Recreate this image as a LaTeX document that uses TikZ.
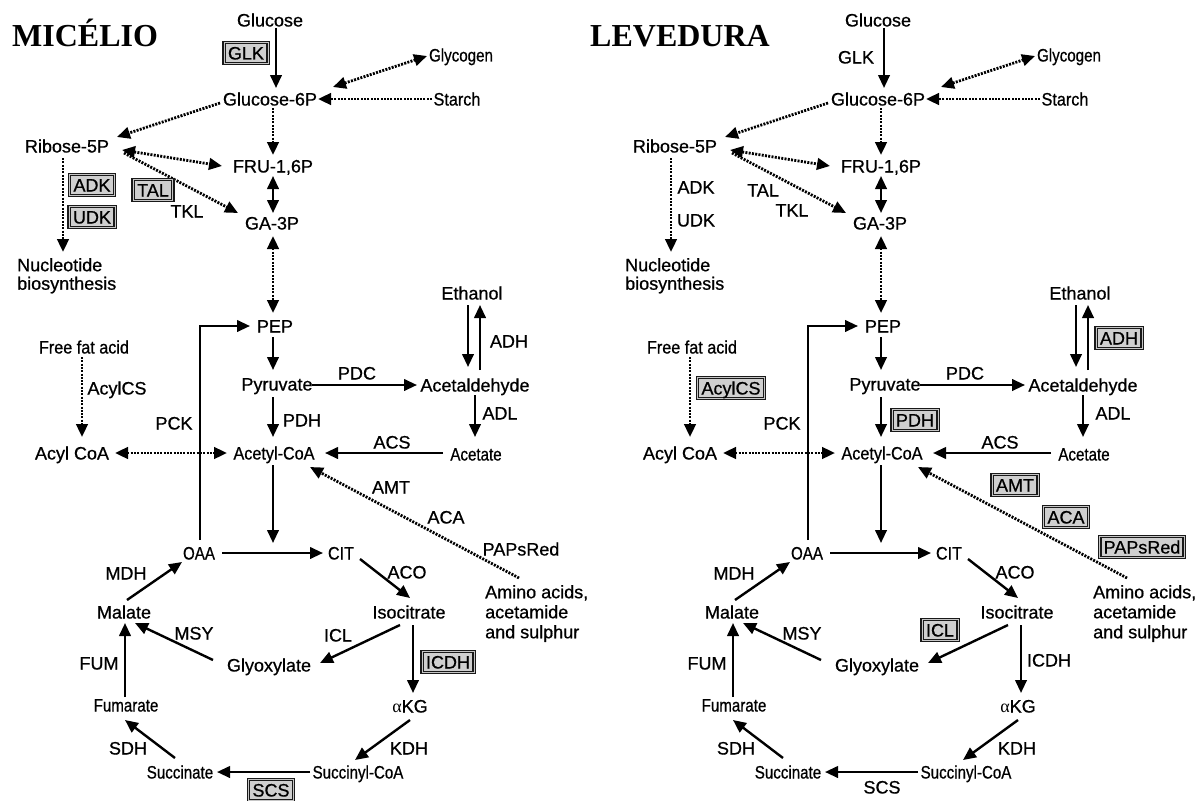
\documentclass[tikz,border=0pt]{standalone}
\usepackage{fontspec}
\setmainfont[FakeBold=0.7]{Liberation Sans}
\newfontfamily\titlefont{Liberation Serif}
\newfontfamily\condA[FakeBold=0.7,FakeStretch=0.84]{Liberation Sans}
\newfontfamily\condB[FakeBold=0.7,FakeStretch=0.9]{Liberation Sans}
\usetikzlibrary{arrows.meta,calc}

\tikzset{
 every node/.style={inner sep=0pt},
 t18/.style={font=\fontsize{18}{21}\selectfont, text height=13pt, text depth=0pt},
 tc84/.style={font=\condA\fontsize{18}{21}\selectfont, text height=13pt, text depth=0pt},
 tc90/.style={font=\condB\fontsize{18}{21}\selectfont, text height=13pt, text depth=0pt},
 enz/.style={font=\fontsize{18}{21}\selectfont, text height=13pt, text depth=0pt},
 enzbox/.style={enz, draw=black!90, line width=1.5pt, double=gray!45, double distance=0.8pt, fill=gray!38, inner xsep=4pt, inner ysep=4pt},
 ttl/.style={font=\titlefont\fontsize{32}{36}\selectfont\bfseries, anchor=base west},
 tip/.tip={Triangle[length=13pt,width=11.5pt]},
 sarr/.style={line width=2.4pt, -tip},
 sdbl/.style={line width=2.4pt, tip-tip},
 dline/.style={line width=2.8pt, dash pattern=on 2pt off 1.3pt},
 darr/.style={dline, -tip},
 ddbl/.style={dline, tip-tip},
}

\newcommand\pathway[2]{%
\begin{scope}[shift={(#1,0)}]
\node[t18] (#2glc) at (270,20) {Glucose};
\node[t18] (#2g6p) at (270,99) {Glucose-6P};
\node[tc84] (#2gly) at (461,55) {Glycogen};
\node[tc90] (#2sta) at (457,99) {Starch};
\node[t18] (#2rib) at (67,146) {Ribose-5P};
\node[t18] (#2fru) at (273,166) {FRU-1,6P};
\node[t18] (#2ga3) at (272,223) {GA-3P};
\node[font=\fontsize{18}{18.5}\selectfont, align=left, anchor=north west] (#2nuc) at (17,258) {Nucleotide\\biosynthesis};
\node[t18] (#2pep) at (275,326) {PEP};
\node[t18] (#2eth) at (472,293) {Ethanol};
\node[t18] (#2pyr) at (277,384) {Pyruvate};
\node[t18] (#2acd) at (475,385) {Acetaldehyde};
\node[tc90] (#2ffa) at (84,347) {Free fat acid};
\node[t18] (#2acyl) at (72,453) {Acyl CoA};
\node[tc90] (#2acc) at (274,453) {Acetyl-CoA};
\node[tc84] (#2ace) at (476,454) {Acetate};
\node[font=\fontsize{18}{20}\selectfont, align=left, anchor=north west] (#2ami) at (485,585) {Amino acids,\\acetamide\\and sulphur};
\node[tc84] (#2oaa) at (199,553) {OAA};
\node[tc90] (#2cit) at (341,553) {CIT};
\node[t18] (#2iso) at (409,612) {Isocitrate};
\node[t18] (#2mal) at (124,612) {Malate};
\node[t18] (#2glx) at (269,665) {Glyoxylate};
\node[tc84] (#2fum) at (126,705) {Fumarate};
\node[t18] (#2akg) at (410,706) {{\titlefont α}KG};
\node[tc84] (#2suc) at (180,772) {Succinate};
\node[tc84] (#2scoa) at (358,772) {Succinyl-CoA};
% connectors
\draw[sarr] ($(#2glc)+(6,8)$) -- ($(#2g6p)+(6,-11)$);
\draw[ddbl] ($(#2g6p)+(63,-12)$) -- ($(#2gly)+(-34,1)$);
\draw[darr] ($(#2sta)+(-25,0)$) -- ($(#2g6p)+(48,0)$);
\draw[darr] ($(#2g6p)+(-50,4)$) -- ($(#2rib)+(50,-9)$);
\draw[darr] ($(#2g6p)+(3,9)$) -- ($(#2fru)+(0,-11)$);
\draw[ddbl] ($(#2rib)+(55,4)$) -- ($(#2fru)+(-51,0)$);
\draw[darr] ($(#2rib)+(57,7)$) -- ($(#2ga3)+(-34,-10)$);
\draw[sdbl] ($(#2fru)+(0,10)$) -- ($(#2ga3)+(1,-10)$);
\draw[darr] ($(#2rib)+(-4,12)$) -- ($(#2nuc.north west)+(46,-6)$);
\draw[ddbl] ($(#2ga3)+(1,13)$) -- ($(#2pep)+(-2,-13)$);
\draw[sarr] ($(#2oaa)+(1,-13)$) |- ($(#2pep)+(-25,0)$);
\draw[sarr] ($(#2pep)+(-2,11)$) -- ($(#2pyr)+(-4,-14)$);
\draw[sarr] ($(#2pyr)+(35,1)$) -- ($(#2acd)+(-58,0)$);
\draw[sarr] ($(#2eth)+(-4,12)$) -- ($(#2acd)+(-7,-18)$);
\draw[sarr] ($(#2acd)+(5,-15)$) -- ($(#2eth)+(8,12)$);
\draw[sarr] ($(#2acd)+(0,10)$) -- ($(#2ace)+(-1,-17)$);
\draw[darr] ($(#2ffa)+(-2,10)$) -- ($(#2acyl)+(10,-16)$);
\draw[sarr] ($(#2pyr)+(-4,13)$) -- ($(#2acc)+(-1,-16)$);
\draw[ddbl] ($(#2acyl)+(43,0)$) -- ($(#2acc)+(-47,0)$);
\draw[sarr] ($(#2ace)+(-33,-1)$) -- ($(#2acc)+(51,0)$);
\draw[darr] ($(#2ami.north west)+(34,-7)$) -- ($(#2acc)+(36,14)$);
\draw[sarr] ($(#2acc)+(-1,12)$) -- ($(#2oaa)!0.5!(#2cit)+(3,-10)$);
\draw[sarr] ($(#2oaa)+(23,0)$) -- ($(#2cit)+(-18,0)$);
\draw[sarr] ($(#2cit)+(19,6)$) -- ($(#2iso)+(1,-14)$);
\draw[sarr] ($(#2iso)+(-9,13)$) -- ($(#2glx)+(51,-2)$);
\draw[sarr] ($(#2glx)+(-56,-5)$) -- ($(#2mal)+(11,11)$);
\draw[sarr] ($(#2mal)+(3,-12)$) -- ($(#2oaa)+(-17,9)$);
\draw[sarr] ($(#2fum)+(-1,-8)$) -- ($(#2mal)+(1,11)$);
\draw[sarr] ($(#2iso)+(4,13)$) -- ($(#2akg)+(3,-13)$);
\draw[sarr] ($(#2akg)+(0,14)$) -- ($(#2scoa)+(-3,-12)$);
\draw[sarr] ($(#2scoa)+(-48,0)$) -- ($(#2suc)+(37,0)$);
\draw[sarr] ($(#2suc)+(-5,-14)$) -- ($(#2fum)+(-1,15)$);
\end{scope}}

\begin{document}
\begin{tikzpicture}[x=1pt,y=-1pt]
\useasboundingbox[fill=white] (0,0) rectangle (1198,800);
\node[ttl] (tmic) at (12,47) {MICÉLIO};
\node[ttl] (tlev) at (590,47) {LEVEDURA};
\pathway{0}{L}
\pathway{608}{R}
% left enzymes (micelio)
\node[enzbox] (LGLK) at (246,53) {GLK};
\node[enzbox] (LADK) at (92,185) {ADK};
\node[enzbox] (LUDK) at (92,217) {UDK};
\node[enzbox] (LTAL) at (153,190) {TAL};
\node[enz] (LTKL) at (187,211) {TKL};
\node[enz] (LAcylCS) at (117,388) {AcylCS};
\node[enz] (LPCK) at (174,423) {PCK};
\node[enz] (LPDC) at (357,373) {PDC};
\node[enz] (LPDH) at (302,420) {PDH};
\node[enz] (LADH) at (509,341) {ADH};
\node[enz] (LADL) at (500,413) {ADL};
\node[enz] (LACS) at (392,442) {ACS};
\node[enz] (LAMT) at (391,487) {AMT};
\node[enz] (LACA) at (446,517) {ACA};
\node[enz] (LPAPs) at (521,549) {PAPsRed};
\node[enz] (LACO) at (407,572) {ACO};
\node[enz] (LMDH) at (126,573) {MDH};
\node[enz] (LMSY) at (194,633) {MSY};
\node[enz] (LICL) at (338,635) {ICL};
\node[enz] (LFUM) at (99,663) {FUM};
\node[enzbox] (LICDH) at (448,662) {ICDH};
\node[enz] (LSDH) at (128,748) {SDH};
\node[enz] (LKDH) at (409,748) {KDH};
\node[enzbox] (LSCS) at (271,790) {SCS};
% right enzymes (levedura)
\node[enz] (RGLK) at (856,57) {GLK};
\node[enz] (RADK) at (696,187) {ADK};
\node[enz] (RUDK) at (696,220) {UDK};
\node[enz] (RTAL) at (763,190) {TAL};
\node[enz] (RTKL) at (792,210) {TKL};
\node[enzbox] (RAcylCS) at (731,388) {AcylCS};
\node[enz] (RPCK) at (782,423) {PCK};
\node[enz] (RPDC) at (965,373) {PDC};
\node[enzbox] (RPDH) at (915,420) {PDH};
\node[enzbox] (RADH) at (1119,338) {ADH};
\node[enz] (RADL) at (1113,413) {ADL};
\node[enz] (RACS) at (1000,442) {ACS};
\node[enzbox] (RAMT) at (1015,485) {AMT};
\node[enzbox] (RACA) at (1066,517) {ACA};
\node[enzbox] (RPAPs) at (1142,547) {PAPsRed};
\node[enz] (RACO) at (1015,572) {ACO};
\node[enz] (RMDH) at (734,573) {MDH};
\node[enz] (RMSY) at (802,633) {MSY};
\node[enzbox] (RICL) at (940,630) {ICL};
\node[enz] (RFUM) at (707,663) {FUM};
\node[enz] (RICDH) at (1049,660) {ICDH};
\node[enz] (RSDH) at (736,748) {SDH};
\node[enz] (RKDH) at (1017,748) {KDH};
\node[enz] (RSCS) at (882,787) {SCS};
\end{tikzpicture}
\end{document}
